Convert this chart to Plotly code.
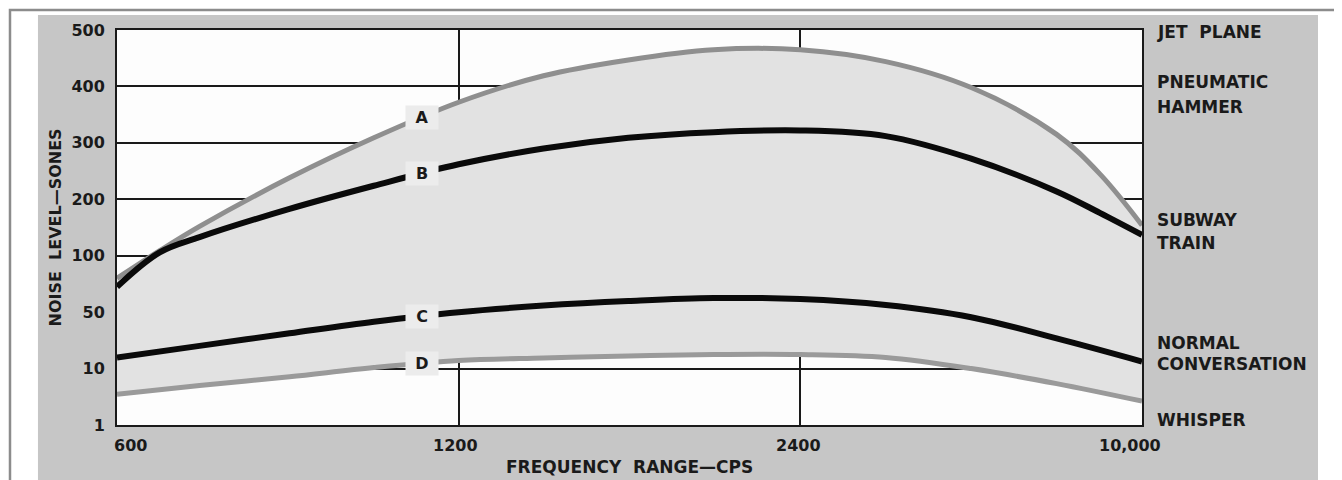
import numpy as np
import plotly.graph_objects as go

# ---------------- data ----------------
X_TICKS = [600, 1200, 2400, 10000]
X_TICK_TEXT = ["600", "1200", "2400", "10,000"]
Y_TICKS = [1, 10, 50, 100, 200, 300, 400, 500]
Y_TICK_TEXT = ["1", "10", "50", "100", "200", "300", "400", "500"]

# frequencies at which the curves were read (cps)
FREQ = [600, 745, 903, 1051, 1200, 1498, 1796, 2095, 2400, 4300, 6200, 8100, 10000]

A_SONES = [80, 152, 238, 309, 372, 419, 447, 465, 465, 444, 398, 315, 154]
B_SONES = [72.5, 133, 183, 224, 262, 290, 309, 319, 322, 312, 272, 214, 137]
C_SONES = [17.9, 26.1, 35, 43.2, 50, 55.8, 59.8, 62.5, 61.6, 56.3, 46.4, 31.4, 15]
D_SONES = [5.9, 7.3, 8.7, 10.7, 15.7, 17.5, 18.9, 20, 20, 17.9, 10, 7.6, 4.8]

# extra readings where A and B bend sharply
A_EXTRA = {675: 109, 9061: 245}
B_EXTRA = {675: 106, 9061: 176}

CURVE_NAMES = ["A", "B", "C", "D"]
LABEL_FREQ = 1135

RIGHT_LABELS = ["JET  PLANE", "PNEUMATIC", "HAMMER", "SUBWAY", "TRAIN",
                "NORMAL", "CONVERSATION", "WHISPER"]
RIGHT_LABEL_LEVEL = [6.96, 6.08, 5.64, 3.64, 3.23, 1.45, 1.08, 0.09]

# ------------- scale helpers (chart's piecewise axes) -------------
XI = np.arange(len(X_TICKS))
YI = np.arange(len(Y_TICKS))


def fx(f):
    return np.interp(np.asarray(f, float), X_TICKS, XI)


def fy(s):
    return np.interp(np.asarray(s, float), Y_TICKS, YI)


def merged(values, extra):
    pts = dict(zip(FREQ, values))
    pts.update(extra)
    ks = sorted(pts)
    return ks, [pts[k] for k in ks]


A_F, A_S = merged(A_SONES, A_EXTRA)
B_F, B_S = merged(B_SONES, B_EXTRA)

FONT = "DejaVu Sans"
TXT = "#1a1a1a"
SM = 1.0

fig = go.Figure()

# D first (base for the fill), then A fills to D
fig.add_trace(go.Scatter(x=fx(FREQ), y=fy(D_SONES), mode="lines",
                         line=dict(color="#9a9a9a", width=5, shape="spline", smoothing=SM),
                         hoverinfo="skip", showlegend=False))
fig.add_trace(go.Scatter(x=fx(A_F), y=fy(A_S), mode="lines",
                         line=dict(color="#8f8f8f", width=5, shape="spline", smoothing=SM),
                         fill="tonexty", fillcolor="#e2e2e2",
                         hoverinfo="skip", showlegend=False))
fig.add_trace(go.Scatter(x=fx(B_F), y=fy(B_S), mode="lines",
                         line=dict(color="#0a0a0a", width=6, shape="spline", smoothing=SM),
                         hoverinfo="skip", showlegend=False))
fig.add_trace(go.Scatter(x=fx(FREQ), y=fy(C_SONES), mode="lines",
                         line=dict(color="#0a0a0a", width=6, shape="spline", smoothing=SM),
                         hoverinfo="skip", showlegend=False))

# curve labels (break the line)
series = {"A": (A_F, A_S), "B": (B_F, B_S),
          "C": (FREQ, C_SONES), "D": (FREQ, D_SONES)}
for name in CURVE_NAMES:
    fr, so = series[name]
    yv = np.interp(LABEL_FREQ, fr, so)
    fig.add_annotation(x=float(fx(LABEL_FREQ)), y=float(fy(yv)), xref="x", yref="y",
                       text="<b>%s</b>" % name, showarrow=False,
                       font=dict(family=FONT, size=16, color=TXT),
                       bgcolor="#ececec", borderpad=2, width=28)

# x tick labels
x_shift = [13, -3, -2, -12]
for xv, t, sh in zip(X_TICKS, X_TICK_TEXT, x_shift):
    fig.add_annotation(x=float(fx(xv)), y=0, xref="x", yref="paper", yanchor="top",
                       yshift=-9, xshift=sh, text="<b>%s</b>" % t, showarrow=False,
                       font=dict(family=FONT, size=16, color=TXT))

# right side labels
for t, lv in zip(RIGHT_LABELS, RIGHT_LABEL_LEVEL):
    fig.add_annotation(x=1.0127, y=lv, xref="paper", yref="y", xanchor="left",
                       text="<b>%s</b>" % t, showarrow=False,
                       font=dict(family=FONT, size=17, color=TXT))

# axis titles
fig.add_annotation(x=0.5, y=0, xref="paper", yref="paper", yanchor="top", yshift=-30,
                   text="<b>FREQUENCY  RANGE—CPS</b>", showarrow=False,
                   font=dict(family=FONT, size=17, color=TXT))
fig.add_annotation(x=0, y=0.5, xref="paper", yref="paper", xanchor="center", xshift=-62,
                   text="<b>NOISE  LEVEL—SONES</b>", showarrow=False, textangle=-90,
                   font=dict(family=FONT, size=16, color=TXT))

# background photo and frame
fig.add_shape(type="rect", xref="paper", yref="paper", x0=-0.0771, x1=1.1717,
              y0=-0.3, y1=1.038, fillcolor="#c6c6c6", line=dict(width=0), layer="below")
fig.add_shape(type="rect", xref="paper", yref="paper", x0=-0.1044, x1=1.30,
              y0=-0.4, y1=1.0506, fillcolor="rgba(0,0,0,0)",
              line=dict(color="#8c8c8c", width=2.5), layer="below")
fig.add_shape(type="rect", xref="x", yref="y", x0=0, x1=3, y0=0, y1=7,
              fillcolor="#fdfdfd", line=dict(width=0), layer="below")

# page body has an 8px margin; offsets below put the plot area at 117..1142 x 30..425
fig.update_layout(
    width=1342, height=480,
    margin=dict(l=109, r=208, t=22, b=63),
    paper_bgcolor="white", plot_bgcolor="#fdfdfd",
    xaxis=dict(range=[0, 3], tickvals=[1, 2], showticklabels=False, ticks="",
               showgrid=True, gridcolor="#1a1a1a", gridwidth=1.5, zeroline=False,
               showline=True, linecolor="#1a1a1a", linewidth=2, mirror=True, layer="above traces"),
    yaxis=dict(range=[0, 7], tickvals=list(YI), ticktext=["<b>%s</b>" % t for t in Y_TICK_TEXT],
               ticks="", ticklabelstandoff=7,
               tickfont=dict(family=FONT, size=16, color=TXT),
               showgrid=True, gridcolor="#1a1a1a", gridwidth=1.5, zeroline=False,
               showline=True, linecolor="#1a1a1a", linewidth=2, mirror=True, layer="above traces"),
)

fig.write_html("out.html")
